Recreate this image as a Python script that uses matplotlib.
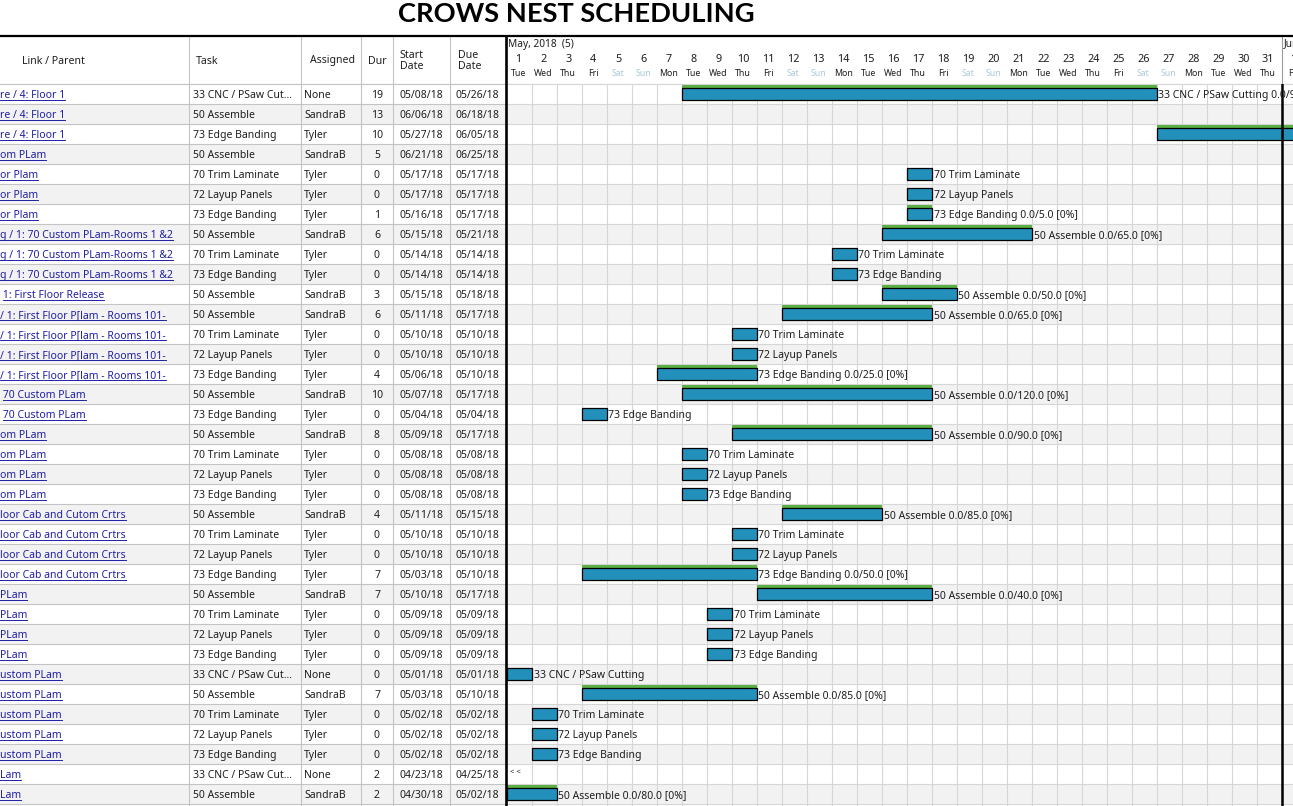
import datetime as dt
import matplotlib
matplotlib.use("Agg")
import matplotlib.pyplot as plt
from matplotlib.patches import Rectangle
from matplotlib.lines import Line2D

W, H = 1293, 806
FONT = "Noto Sans"
plt.rcParams['font.family'] = [FONT, 'DejaVu Sans']

# ---- data ----
links = ["re / 4: Floor 1", "re / 4: Floor 1", "re / 4: Floor 1", "om PLam",
         "or Plam", "or Plam", "or Plam",
         "g / 1: 70 Custom PLam-Rooms 1 &2", "g / 1: 70 Custom PLam-Rooms 1 &2",
         "g / 1: 70 Custom PLam-Rooms 1 &2",
         " 1: First Floor Release",
         "/ 1: First Floor P[lam - Rooms 101-", "/ 1: First Floor P[lam - Rooms 101-",
         "/ 1: First Floor P[lam - Rooms 101-", "/ 1: First Floor P[lam - Rooms 101-",
         " 70 Custom PLam", " 70 Custom PLam",
         "om PLam", "om PLam", "om PLam", "om PLam",
         "loor Cab and Cutom Crtrs", "loor Cab and Cutom Crtrs",
         "loor Cab and Cutom Crtrs", "loor Cab and Cutom Crtrs",
         "PLam", "PLam", "PLam", "PLam",
         "ustom PLam", "ustom PLam", "ustom PLam", "ustom PLam", "ustom PLam",
         "Lam", "Lam"]
tasks = ["33 CNC / PSaw Cutting", "50 Assemble", "73 Edge Banding", "50 Assemble",
         "70 Trim Laminate", "72 Layup Panels", "73 Edge Banding",
         "50 Assemble", "70 Trim Laminate", "73 Edge Banding",
         "50 Assemble",
         "50 Assemble", "70 Trim Laminate", "72 Layup Panels", "73 Edge Banding",
         "50 Assemble", "73 Edge Banding",
         "50 Assemble", "70 Trim Laminate", "72 Layup Panels", "73 Edge Banding",
         "50 Assemble", "70 Trim Laminate", "72 Layup Panels", "73 Edge Banding",
         "50 Assemble", "70 Trim Laminate", "72 Layup Panels", "73 Edge Banding",
         "33 CNC / PSaw Cutting", "50 Assemble", "70 Trim Laminate", "72 Layup Panels",
         "73 Edge Banding",
         "33 CNC / PSaw Cutting", "50 Assemble"]
assigned = ["None", "SandraB", "Tyler", "SandraB",
            "Tyler", "Tyler", "Tyler",
            "SandraB", "Tyler", "Tyler",
            "SandraB",
            "SandraB", "Tyler", "Tyler", "Tyler",
            "SandraB", "Tyler",
            "SandraB", "Tyler", "Tyler", "Tyler",
            "SandraB", "Tyler", "Tyler", "Tyler",
            "SandraB", "Tyler", "Tyler", "Tyler",
            "None", "SandraB", "Tyler", "Tyler", "Tyler",
            "None", "SandraB"]
durs = [19, 13, 10, 5, 0, 0, 1, 6, 0, 0, 3, 6, 0, 0, 4, 10, 0, 8, 0, 0, 0,
        4, 0, 0, 7, 7, 0, 0, 0, 0, 7, 0, 0, 0, 2, 2]
starts = ["05/08/18", "06/06/18", "05/27/18", "06/21/18", "05/17/18", "05/17/18",
          "05/16/18", "05/15/18", "05/14/18", "05/14/18", "05/15/18", "05/11/18",
          "05/10/18", "05/10/18", "05/06/18", "05/07/18", "05/04/18", "05/09/18",
          "05/08/18", "05/08/18", "05/08/18", "05/11/18", "05/10/18", "05/10/18",
          "05/03/18", "05/10/18", "05/09/18", "05/09/18", "05/09/18", "05/01/18",
          "05/03/18", "05/02/18", "05/02/18", "05/02/18", "04/23/18", "04/30/18"]
dues = ["05/26/18", "06/18/18", "06/05/18", "06/25/18", "05/17/18", "05/17/18",
        "05/17/18", "05/21/18", "05/14/18", "05/14/18", "05/18/18", "05/17/18",
        "05/10/18", "05/10/18", "05/10/18", "05/17/18", "05/04/18", "05/17/18",
        "05/08/18", "05/08/18", "05/08/18", "05/15/18", "05/10/18", "05/10/18",
        "05/10/18", "05/17/18", "05/09/18", "05/09/18", "05/09/18", "05/01/18",
        "05/10/18", "05/02/18", "05/02/18", "05/02/18", "04/25/18", "05/02/18"]
hours = [95.0, 65.0, 50.0, 40.0, None, None, 5.0, 65.0, None, None, 50.0, 65.0,
         None, None, 25.0, 120.0, None, 90.0, None, None, None, 85.0, None, None,
         50.0, 40.0, None, None, None, None, 85.0, None, None, None, 10.0, 80.0]

view_start = dt.date(2018, 5, 1)
n_days = 32

# ---- colours ----
BAR = "#2390bb"
GREEN = "#5cb043"
ALT = "#f2f2f2"
GRID = "#d6d6d6"
LINE = "#c4c4c4"
TXT = "#1e1e1e"
LINK = "#1f1fa8"
WEEKEND = "#a9c9da"

fig = plt.figure(figsize=(W / 100, H / 100), dpi=100)
fig.patch.set_facecolor("white")


def make_axes(x0, y0, x1, y1):
    # box given in pixels, origin at top-left
    ax = fig.add_axes([x0 / W, 1 - y1 / H, (x1 - x0) / W, (y1 - y0) / H])
    ax.set_axis_off()
    return ax


TOP, HEAD, SPLIT, DAYW, ROWH = 36, 84, 507, 25, 20
n_rows = (H - HEAD) / ROWH
days_vis = (W - SPLIT) / DAYW

ax_th = make_axes(0, TOP, SPLIT, HEAD)
ax_th.set_xlim(0, SPLIT)
ax_th.set_ylim(HEAD - TOP, 0)
ax_gh = make_axes(SPLIT, TOP, W, HEAD)
ax_gh.set_xlim(0, days_vis)
ax_gh.set_ylim(HEAD - TOP, 0)
ax_t = make_axes(0, HEAD, SPLIT, H)
ax_t.set_xlim(0, SPLIT)
ax_t.set_ylim(n_rows, 0)
ax_g = make_axes(SPLIT, HEAD, W, H)
ax_g.set_xlim(0, days_vis)
ax_g.set_ylim(n_rows, 0)

fig.text(576 / W, 1 - 14.5 / H, "CROWS NEST SCHEDULING", family="Lato",
         weight="bold", fontsize=19.6, ha="center", va="center", color="black")
fig.add_artist(Line2D([0, 1], [1 - TOP / H] * 2, transform=fig.transFigure,
                      color="black", lw=1.6))

# ---- table ----
col_lines = [188.5, 300.5, 361, 392.5, 450]
for i in range(len(tasks)):
    if i % 2 == 1:
        ax_t.add_patch(Rectangle((0, i), SPLIT, 1, color=ALT, lw=0, zorder=0))
        ax_g.axhspan(i, i + 1, color=ALT, lw=0, zorder=0)
for i in range(len(tasks) + 1):
    ax_t.axhline(i, color=LINE, lw=0.8, zorder=1)
    ax_g.axhline(i, color=GRID, lw=0.8, zorder=1)
for x in col_lines:
    ax_t.axvline(x, color=LINE, lw=0.8, zorder=1)
    ax_th.axvline(x, color=LINE, lw=0.8, zorder=1)
ax_th.axhline(HEAD - TOP - 0.5, color="#9a9a9a", lw=0.8)
ax_gh.axhline(HEAD - TOP - 0.5, color="#9a9a9a", lw=0.8)

hdr = dict(fontsize=7.6, color=TXT, va="center")
ax_th.text(53, 25, "Link / Parent", ha="center", **hdr)
ax_th.text(196, 25, "Task", ha="left", **hdr)
ax_th.text(332, 25, "Assigned", ha="center", **hdr)
ax_th.text(377, 25, "Dur", ha="center", **hdr)
ax_th.text(400, 25, "Start\nDate", ha="left", linespacing=1.0, **hdr)
ax_th.text(458, 25, "Due\nDate", ha="left", linespacing=1.0, **hdr)

link_texts = []
cell = dict(fontsize=7.5, color=TXT, va="baseline", clip_on=True)
for i in range(len(tasks)):
    yb = i + 0.7
    t = ax_t.text(0, yb, links[i], ha="left", va="baseline", fontsize=7.5,
                  color=LINK, clip_on=True)
    link_texts.append((t, i))
    name = tasks[i] if len(tasks[i]) <= 18 else tasks[i][:17] + "..."
    ax_t.text(193, yb, name, ha="left", **cell)
    ax_t.text(304, yb, assigned[i], ha="left", **cell)
    ax_t.text(377, yb, str(durs[i]), ha="center", **cell)
    ax_t.text(399, yb, starts[i], ha="left", **cell)
    ax_t.text(455, yb, dues[i], ha="left", **cell)

# ---- timeline header ----
for k in range(n_days):
    d = view_start + dt.timedelta(days=k)
    wk = d.weekday() >= 5
    ax_gh.text(k + 0.45, 24, str(d.day), ha="center", va="center", fontsize=7.8,
               color=TXT, clip_on=True)
    ax_gh.text(k + 0.45, 38, d.strftime("%a"), ha="center", va="center",
               fontsize=6.3, color=WEEKEND if wk else TXT, clip_on=True)
    if d.day == 1:
        ax_gh.text(k + 0.06, 8, d.strftime("%b, %Y") + "  (%d)" % d.month,
                   ha="left", va="center", fontsize=7.3, color=TXT, clip_on=True)
        if k > 0:
            ax_gh.axvline(k, color="#9a9a9a", lw=0.8)
            ax_g.axvline(k, color="black", lw=1.8, zorder=4)

# ---- gantt ----
for k in range(1, n_days):
    ax_g.axvline(k, color=GRID, lw=0.8, zorder=1)

for i in range(len(tasks)):
    due = dt.datetime.strptime(dues[i], "%m/%d/%y").date()
    end = (due - view_start).days + 1
    width = max(durs[i], 1)
    left = end - width
    if end <= 0:
        ax_g.text(0.12, i + 0.45, "< <", fontsize=5.5, ha="left", va="center",
                  color=TXT)
        continue
    if durs[i] > 0:
        ax_g.add_patch(Rectangle((left, i + 0.04), width, 0.15, color=GREEN,
                                 lw=0, zorder=2))
    ax_g.add_patch(Rectangle((left, i + 0.18), width, 0.6, facecolor=BAR,
                             edgecolor="black", lw=0.9, zorder=3))
    label = tasks[i]
    if hours[i] is not None:
        label += " 0.0/%.1f [0%%]" % hours[i]
    ax_g.text(end + 0.06, i + 0.7, label, ha="left", va="baseline",
              fontsize=7.5, color=TXT, clip_on=True, zorder=5)

# thick separator between table and timeline
fig.add_artist(Line2D([(SPLIT - 1) / W] * 2, [0, 1 - TOP / H],
                      transform=fig.transFigure, color="black", lw=1.9))

# underline the links
fig.canvas.draw()
r = fig.canvas.get_renderer()
for t, i in link_texts:
    bb = t.get_window_extent(r)
    x1 = min(bb.x1, 186)
    if t.get_text().startswith(" "):
        x0 = bb.x0 + 3
    else:
        x0 = bb.x0
    ax_t.plot([x0, x1], [i + 0.78, i + 0.78], color=LINK, lw=0.7, zorder=2)

fig.savefig("out.png", dpi=100)
